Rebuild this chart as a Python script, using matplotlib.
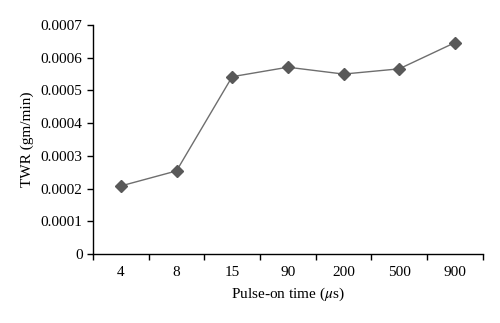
import numpy as np
from matplotlib import pyplot as plt

plt.rcParams['font.family'] = ['Liberation Serif', 'DejaVu Serif']
plt.rcParams['mathtext.fontset'] = 'stix'

pulse_on = ['4', '8', '15', '90', '200', '500', '900']
twr = [0.000208, 0.000254, 0.000542, 0.000571, 0.000550, 0.000566, 0.000646]

fig = plt.figure(figsize=(5, 3.23), dpi=100)
ax = fig.add_axes([0.186, 0.2136, 0.7794, 0.709])

x = np.arange(len(pulse_on))
ax.plot(x, twr, '-', color='#6e6e6e', linewidth=1.0,
        marker='D', markersize=6.5, markerfacecolor='#595959', markeredgecolor='#595959')

ax.set_xlim(-0.5, len(pulse_on) - 0.5)
ax.set_ylim(0, 0.0007)
ax.set_yticks(np.arange(0, 0.00071, 0.0001))
ax.set_yticklabels(['0'] + ['%.4f' % v for v in np.arange(0.0001, 0.00071, 0.0001)])

# category boundaries carry the tick marks, labels sit at the centres
ax.set_xticks(np.arange(-0.5, len(pulse_on), 1.0))
ax.set_xticklabels([])
ax.set_xticks(x, minor=True)
ax.set_xticklabels(pulse_on, minor=True)
ax.tick_params(axis='x', which='minor', length=0, pad=8.5)
ax.tick_params(axis='both', which='major', direction='out', length=4, width=1, labelsize=11)
ax.tick_params(axis='x', which='minor', labelsize=11)

for side in ['top', 'right']:
    ax.spines[side].set_visible(False)
for side in ['left', 'bottom']:
    ax.spines[side].set_linewidth(1.0)

ax.set_ylabel('TWR (gm/min)', fontsize=11, labelpad=5)
ax.set_xlabel(r'Pulse-on time ($\mu$s)', fontsize=11, labelpad=5)

fig.savefig('out.png', dpi=100)
plt.close()
